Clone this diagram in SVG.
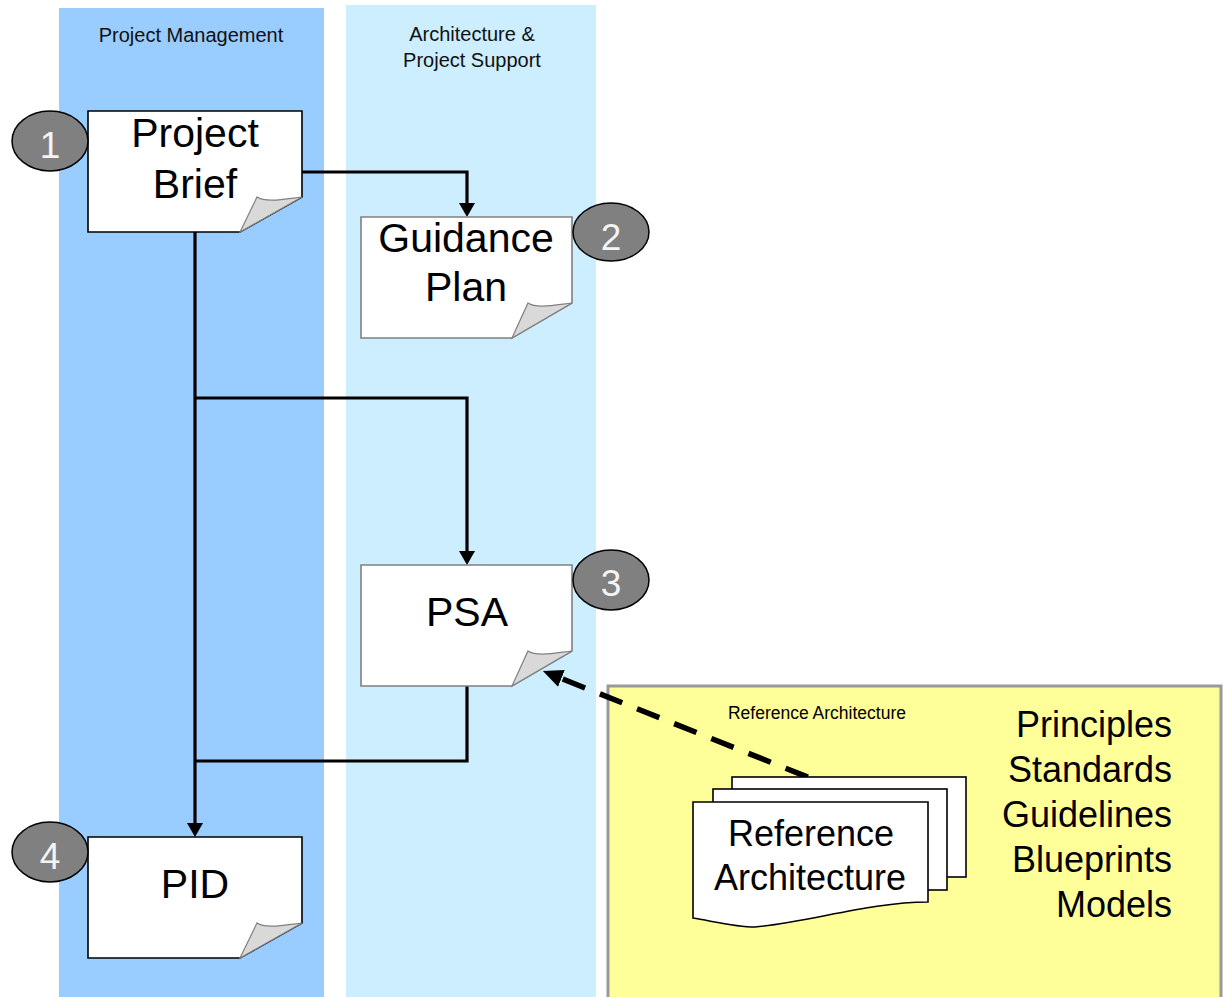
<svg xmlns="http://www.w3.org/2000/svg" width="1226" height="997" viewBox="0 0 1226 997">
<style>
text{font-family:"Liberation Sans",Arial,sans-serif;fill:#000}
.lane-title{font-size:20px;text-anchor:middle;fill:#111}
.doc{fill:#fff;stroke-width:1.6}
.dark{stroke:#000}
.grey{stroke:#808080}
.curl{fill:#d9d9d9;stroke:#808080;stroke-width:1.2}
.big{font-size:41px;text-anchor:middle}
.badge ellipse{fill:#808080;stroke:#000;stroke-width:1.5}
.badge text{font-size:37px;text-anchor:middle;fill:#f4f4f4}
.conn{fill:none;stroke:#000;stroke-width:3.2}
.dashed{fill:none;stroke:#000;stroke-width:5.5;stroke-dasharray:24 16}
.list{font-size:36px;text-anchor:end}
.stack{fill:#fff;stroke:#000;stroke-width:1.6}
</style>
<defs>
<marker id="ah" viewBox="0 0 14 16" refX="4" refY="8" markerWidth="14" markerHeight="16" markerUnits="userSpaceOnUse" orient="auto">
<path d="M0,0 L14,8 L0,16 Z" fill="#000"/>
</marker>
<marker id="ahd" viewBox="0 0 20 18" refX="8" refY="9" markerWidth="20" markerHeight="18" markerUnits="userSpaceOnUse" orient="auto">
<path d="M0,0 L20,9 L0,18 Z" fill="#000"/>
</marker>
</defs>

<g id="lane-pm">
<rect x="59" y="8" width="265" height="989" fill="#99ccff"/>
<text class="lane-title" x="191" y="42">Project Management</text>
</g>
<g id="lane-aps">
<rect x="346" y="5" width="250" height="992" fill="#cceeff"/>
<text class="lane-title" x="472" y="41">Architecture &amp;</text>
<text class="lane-title" x="472" y="67">Project Support</text>
</g>

<g id="ref-arch-area">
<rect x="608" y="686" width="613" height="330" fill="#ffff99" stroke="#999999" stroke-width="3"/>
<text x="817" y="719" font-size="17.5" text-anchor="middle">Reference Architecture</text>
<text class="list" x="1172" y="737">Principles</text>
<text class="list" x="1172" y="782">Standards</text>
<text class="list" x="1172" y="827">Guidelines</text>
<text class="list" x="1172" y="872">Blueprints</text>
<text class="list" x="1172" y="917">Models</text>
</g>

<g id="connectors">
<path class="conn" d="M302,172 H467 V207" marker-end="url(#ah)"/>
<path class="conn" d="M195,232 V827" marker-end="url(#ah)"/>
<path class="conn" d="M195,398 H467 V555" marker-end="url(#ah)"/>
<path class="conn" d="M467,686 V761 H195"/>
<path class="dashed" d="M845,792 L554,675.5" marker-end="url(#ahd)"/>
</g>

<g id="node-project-brief">
<path class="doc dark" d="M88,111 H302 V197 L240,232 H88 Z"/>
<path class="curl" d="M240,232 L257,197 C266,203 285,199 302,197 Z"/>
<text class="big" x="195" y="147">Project</text>
<text class="big" x="195" y="198">Brief</text>
</g>
<g id="badge-1" class="badge">
<ellipse cx="50" cy="141" rx="38" ry="30"/>
<text x="50" y="158">1</text>
</g>

<g id="node-guidance-plan">
<path class="doc grey" d="M361,217 H572 V303 L512,338 H361 Z"/>
<path class="curl" d="M512,338 L528,303 C537,309 555,305 572,303 Z"/>
<text class="big" x="466" y="252">Guidance</text>
<text class="big" x="466" y="301">Plan</text>
</g>
<g id="badge-2" class="badge">
<ellipse cx="611" cy="232" rx="38" ry="29"/>
<text x="611" y="250">2</text>
</g>

<g id="node-psa">
<path class="doc grey" d="M361,565 H572 V651 L512,686 H361 Z"/>
<path class="curl" d="M512,686 L528,651 C537,657 555,653 572,651 Z"/>
<text class="big" x="467" y="626">PSA</text>
</g>
<g id="badge-3" class="badge">
<ellipse cx="611" cy="580" rx="38" ry="30"/>
<text x="611" y="596">3</text>
</g>

<g id="node-pid">
<path class="doc dark" d="M88,837 H302 V923 L240,958 H88 Z"/>
<path class="curl" d="M240,958 L257,923 C266,929 285,925 302,923 Z"/>
<text class="big" x="195" y="898">PID</text>
</g>
<g id="badge-4" class="badge">
<ellipse cx="50" cy="852" rx="38" ry="30"/>
<text x="50" y="869">4</text>
</g>

<g id="node-reference-architecture">
<rect class="stack" x="732" y="777" width="234" height="100"/>
<rect class="stack" x="713" y="789" width="234" height="101"/>
<path class="stack" d="M693,802 H928 V902 C870,902 810,922 755,927 C735,927 712,921 693,918 Z"/>
<text x="811" y="846" font-size="36" text-anchor="middle">Reference</text>
<text x="810" y="890" font-size="36" text-anchor="middle">Architecture</text>
</g>
</svg>
